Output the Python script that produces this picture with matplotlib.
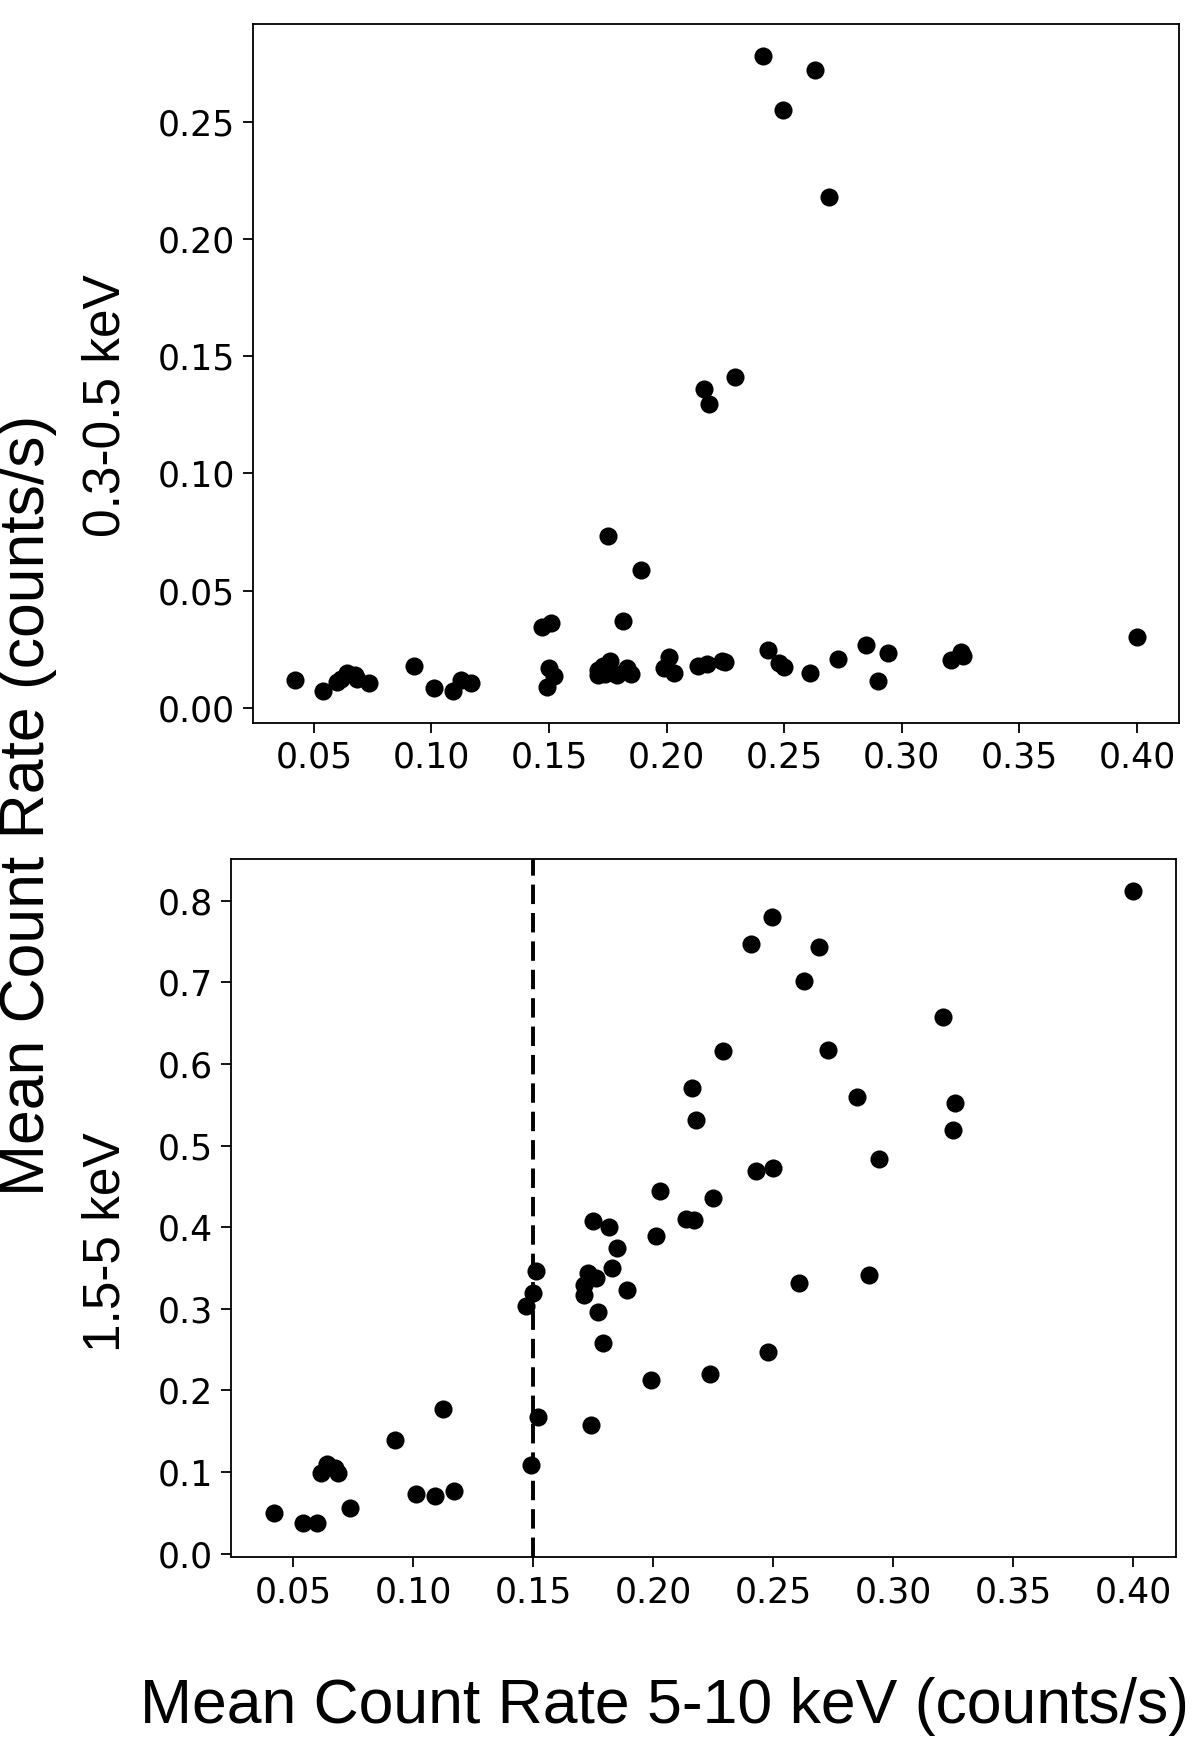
import numpy as np
import matplotlib
matplotlib.use("Agg")
import matplotlib.pyplot as plt

# mean count rate 5-10 keV (shared by both panels)
hard = [0.042, 0.054, 0.060, 0.0616, 0.064, 0.0676, 0.0685, 0.0736, 0.0926, 0.101,
        0.109, 0.1125, 0.117, 0.147, 0.149, 0.150, 0.151, 0.152, 0.171, 0.171,
        0.173, 0.174, 0.175, 0.176, 0.177, 0.179, 0.1815, 0.183, 0.185, 0.189,
        0.199, 0.201, 0.203, 0.2135, 0.216, 0.217, 0.218, 0.2236, 0.225, 0.229,
        0.241, 0.243, 0.248, 0.2495, 0.250, 0.261, 0.263, 0.269, 0.273, 0.285,
        0.290, 0.294, 0.321, 0.325, 0.326, 0.400]

# 0.3-0.5 keV
soft = [0.0119, 0.0071, 0.0109, 0.0125, 0.0147, 0.0142, 0.0125, 0.0104, 0.018, 0.0085,
        0.0071, 0.0119, 0.0104, 0.0346, 0.009, 0.017, 0.036, 0.0137, 0.016, 0.014,
        0.018, 0.0145, 0.0735, 0.020, 0.015, 0.014, 0.037, 0.017, 0.0145, 0.0588,
        0.017, 0.0215, 0.015, 0.018, 0.136, 0.0185, 0.1295, 0.020, 0.0195, 0.141,
        0.278, 0.0245, 0.019, 0.255, 0.0175, 0.015, 0.272, 0.218, 0.021, 0.0266,
        0.0114, 0.0232, 0.0204, 0.024, 0.022, 0.030]

# 1.5-5 keV
mid = [0.050, 0.038, 0.038, 0.099, 0.110, 0.105, 0.099, 0.056, 0.139, 0.073,
       0.071, 0.177, 0.077, 0.303, 0.109, 0.319, 0.346, 0.168, 0.329, 0.317,
       0.344, 0.158, 0.408, 0.338, 0.296, 0.258, 0.400, 0.350, 0.374, 0.323,
       0.213, 0.389, 0.444, 0.410, 0.571, 0.409, 0.531, 0.220, 0.436, 0.616,
       0.747, 0.469, 0.247, 0.780, 0.473, 0.332, 0.702, 0.743, 0.617, 0.560,
       0.342, 0.484, 0.658, 0.519, 0.552, 0.812]

cut = 0.15

fig = plt.figure(figsize=(12, 17.42), dpi=100)
ax1 = fig.add_axes([0.2108, 0.585, 0.7717, 0.401])
ax2 = fig.add_axes([0.1925, 0.1062, 0.7875, 0.4007])

ax1.scatter(hard, soft, s=170, color="black", linewidths=0)
ax2.scatter(hard, mid, s=170, color="black", linewidths=0)
ax2.axvline(cut, color="black", ls="--", lw=2.8, dashes=(5, 2.3))
ax2.set_ylim(-0.004, 0.851)

ax1.set_xticks(np.arange(0.05, 0.401, 0.05))
ax2.set_xticks(np.arange(0.05, 0.401, 0.05))
ax1.set_yticks(np.arange(0, 0.251, 0.05))
ax2.set_yticks(np.arange(0, 0.81, 0.1))
ax1.xaxis.set_major_formatter(plt.FormatStrFormatter("%.2f"))
ax2.xaxis.set_major_formatter(plt.FormatStrFormatter("%.2f"))
ax1.yaxis.set_major_formatter(plt.FormatStrFormatter("%.2f"))
ax2.yaxis.set_major_formatter(plt.FormatStrFormatter("%.1f"))

for ax in (ax1, ax2):
    ax.tick_params(labelsize=25, length=7, width=1.3, pad=6)
    for sp in ax.spines.values():
        sp.set_linewidth(1.3)

lab = dict(family=["Liberation Sans", "DejaVu Sans"], color="black")
fig.text(105.5 / 1200, 1 - 405.5 / 1742, "0.3-0.5 keV", rotation=90,
         ha="center", va="center", fontsize=37, **lab)
fig.text(105.5 / 1200, 1 - 1242 / 1742, "1.5-5 keV", rotation=90,
         ha="center", va="center", fontsize=37, **lab)
fig.text(28 / 1200, 1 - 805 / 1742, "Mean Count Rate (counts/s)", rotation=90,
         ha="center", va="center", fontsize=45, **lab)
fig.text(664 / 1200, 1 - 1706 / 1742, "Mean Count Rate 5-10 keV (counts/s)",
         ha="center", va="center", fontsize=45, **lab)

fig.savefig("out.png", dpi=100)
